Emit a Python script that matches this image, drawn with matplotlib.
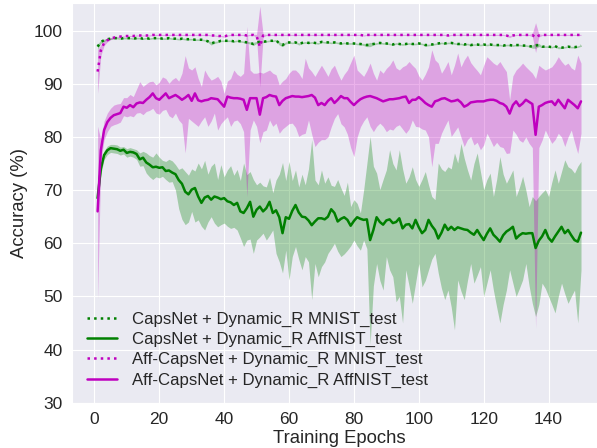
import matplotlib.pyplot as plt
import numpy as np
import seaborn as sns

sns.set_style("darkgrid")
plt.rcParams['font.family'] = ['Liberation Sans', 'DejaVu Sans']

epochs = np.arange(1, 151)

# CapsNet + Dynamic_R, MNIST test (mean and half-width of the band)
capsnet_mnist = [
    97.0, 97.9, 98.2, 98.4, 98.5, 98.6, 98.6, 98.5, 98.6, 98.6,
    98.6, 98.5, 98.6, 98.6, 98.5, 98.6, 98.5, 98.6, 98.6, 98.6,
    98.5, 98.5, 98.6, 98.5, 98.5, 98.4, 98.5, 98.4, 98.4, 98.4,
    98.3, 98.3, 98.3, 98.2, 98.0, 97.6, 97.8, 97.9, 98.1, 98.1,
    98.1, 98.1, 98.0, 98.1, 98.0, 97.9, 97.8, 97.7, 97.5, 97.8,
    97.9, 97.9, 98.0, 98.1, 98.1, 98.2, 97.6, 97.3, 97.7, 97.8,
    97.7, 97.8, 97.5, 97.7, 97.8, 97.7, 97.8, 97.7, 97.6, 97.9,
    97.8, 97.8, 97.7, 97.8, 97.7, 97.6, 97.7, 97.6, 97.6, 97.6,
    97.5, 97.5, 97.4, 97.3, 97.4, 97.5, 97.6, 97.7, 97.6, 97.6,
    97.5, 97.4, 97.6, 97.5, 97.4, 97.5, 97.6, 97.5, 97.5, 97.6,
    97.5, 97.3, 97.3, 97.4, 97.5, 97.6, 97.7, 97.6, 97.7, 97.7,
    97.6, 97.5, 97.5, 97.4, 97.5, 97.3, 97.4, 97.4, 97.3, 97.4,
    97.3, 97.4, 97.3, 97.3, 97.3, 97.2, 97.3, 97.3, 97.2, 97.3,
    97.3, 97.2, 97.2, 97.1, 97.0, 97.2, 97.3, 97.0, 97.0, 97.0,
    96.9, 97.1, 96.8, 96.8, 96.9, 97.0, 96.9, 96.9, 97.0, 97.2,
]
capsnet_mnist_spread = [
    0.5, 0.3, 0.2, 0.2, 0.15, 0.15, 0.15, 0.15, 0.15, 0.15,
    0.15, 0.15, 0.15, 0.15, 0.15, 0.15, 0.15, 0.15, 0.15, 0.15,
    0.15, 0.15, 0.15, 0.15, 0.15, 0.15, 0.15, 0.15, 0.15, 0.15,
    0.15, 0.15, 0.15, 0.15, 0.2, 0.3, 0.2, 0.15, 0.15, 0.15,
    0.15, 0.15, 0.15, 0.15, 0.15, 0.15, 0.2, 0.2, 0.3, 0.2,
    0.2, 0.15, 0.15, 0.15, 0.15, 0.15, 0.3, 0.3, 0.2, 0.15,
    0.15, 0.15, 0.2, 0.15, 0.15, 0.15, 0.15, 0.15, 0.15, 0.15,
    0.15, 0.15, 0.15, 0.15, 0.15, 0.15, 0.15, 0.15, 0.15, 0.15,
    0.15, 0.15, 0.2, 0.3, 0.4, 0.2, 0.15, 0.15, 0.15, 0.15,
    0.15, 0.15, 0.15, 0.15, 0.15, 0.15, 0.15, 0.15, 0.15, 0.15,
    0.15, 0.2, 0.15, 0.15, 0.15, 0.15, 0.15, 0.15, 0.15, 0.15,
    0.15, 0.15, 0.15, 0.15, 0.15, 0.2, 0.15, 0.15, 0.15, 0.15,
    0.15, 0.15, 0.15, 0.15, 0.15, 0.15, 0.15, 0.15, 0.15, 0.15,
    0.15, 0.15, 0.15, 0.15, 0.3, 0.5, 0.3, 0.15, 0.15, 0.15,
    0.15, 0.15, 0.2, 0.15, 0.15, 0.15, 0.15, 0.15, 0.15, 0.15,
]

# CapsNet + Dynamic_R, affNIST test (mean, lower and upper edge of the band)
capsnet_aff = [
    68.5, 74.0, 76.6, 77.5, 77.9, 77.8, 77.7, 77.4, 77.6, 77.0,
    77.2, 77.1, 76.8, 75.8, 76.1, 75.2, 74.8, 74.3, 74.4, 74.2,
    74.3, 73.6, 73.7, 73.3, 73.0, 71.9, 71.2, 69.7, 69.2, 70.1,
    70.4, 68.8, 67.6, 68.6, 68.9, 68.2, 68.8, 68.6, 68.3, 68.5,
    67.9, 67.7, 67.2, 67.6, 66.0, 65.7, 66.6, 67.8, 65.0, 66.3,
    66.9, 66.0, 66.6, 67.8, 65.7, 66.2, 64.9, 61.9, 64.9, 64.6,
    66.1, 67.2, 65.8, 65.0, 64.9, 64.3, 63.4, 64.1, 64.7, 64.7,
    64.5, 65.0, 66.4, 65.7, 64.1, 64.6, 64.9, 64.4, 63.3, 64.2,
    64.9, 64.6, 64.4, 64.5, 60.6, 62.5, 64.9, 64.0, 63.5, 64.3,
    64.5, 63.8, 64.0, 64.7, 62.8, 63.5, 63.6, 62.8, 64.4, 63.0,
    61.9, 62.5, 64.4, 63.3, 62.5, 60.9, 62.0, 63.5, 62.5, 63.1,
    62.5, 63.0, 62.8, 62.6, 62.5, 62.0, 61.6, 62.5, 61.5, 60.6,
    61.8, 62.8, 61.6, 61.0, 60.3, 61.5, 62.2, 62.6, 63.1, 60.9,
    61.5, 61.9, 61.8, 61.9, 61.9, 59.1, 60.5, 61.3, 62.5, 61.0,
    60.3, 61.3, 62.2, 63.1, 61.9, 62.5, 61.5, 60.6, 60.3, 62.0,
]
capsnet_aff_lo = [
    67.8, 73.0, 75.8, 76.7, 77.1, 77.0, 76.9, 76.6, 76.8, 76.2,
    76.4, 76.2, 75.8, 74.5, 74.6, 73.2, 72.5, 72.0, 72.5, 72.3,
    72.6, 72.0, 71.5, 71.6, 70.0, 66.5, 64.5, 63.5, 64.0, 66.0,
    64.0, 64.4, 63.2, 62.5, 64.0, 65.0, 63.8, 63.1, 63.5, 63.8,
    63.2, 62.8, 63.0, 62.5, 61.0, 59.4, 60.6, 60.8, 58.1, 60.6,
    61.2, 61.9, 60.6, 61.5, 62.5, 58.1, 56.5, 54.4, 58.7, 53.1,
    57.5, 59.4, 57.0, 55.0, 57.5, 56.5, 49.4, 56.2, 53.7, 55.6,
    56.5, 58.1, 59.0, 60.0, 58.5, 57.5, 58.0, 58.7, 59.5, 60.6,
    59.5, 58.7, 60.6, 59.0, 41.0, 52.0, 56.2, 53.0, 51.2, 57.5,
    55.0, 53.7, 49.0, 50.0, 45.0, 55.0, 52.0, 48.7, 52.5, 56.2,
    51.8, 53.0, 55.0, 57.0, 58.1, 54.4, 51.5, 49.4, 51.2, 48.0,
    43.7, 53.1, 51.0, 49.4, 53.0, 56.2, 52.5, 54.0, 55.6, 50.0,
    52.5, 55.0, 51.2, 48.0, 45.0, 48.5, 51.2, 55.0, 52.5, 50.0,
    51.5, 53.1, 56.2, 52.0, 48.7, 46.2, 48.5, 52.5, 51.5, 50.0,
    48.5, 46.9, 50.0, 52.5, 50.5, 48.7, 50.0, 51.2, 45.0, 55.0,
]
capsnet_aff_hi = [
    69.2, 75.0, 77.4, 78.3, 78.6, 78.6, 78.5, 78.1, 78.2, 77.8,
    78.0, 77.8, 77.6, 77.0, 77.3, 77.0, 76.5, 76.2, 77.0, 76.2,
    75.6, 75.4, 75.8, 75.5, 74.8, 73.9, 74.2, 73.5, 72.8, 74.0,
    73.6, 75.1, 74.0, 75.6, 73.0, 74.5, 75.1, 72.0, 74.8, 72.5,
    73.8, 74.6, 72.8, 73.9, 71.8, 75.1, 72.9, 73.5, 72.0, 71.0,
    71.5, 70.8, 70.6, 72.4, 69.5, 71.9, 73.0, 75.2, 71.8, 75.4,
    71.8, 73.8, 70.6, 73.0, 71.0, 74.0, 79.5, 71.9, 71.0, 73.8,
    71.3, 72.5, 70.9, 70.7, 72.0, 70.4, 69.0, 71.5, 66.9, 68.2,
    67.5, 65.7, 70.0, 75.0, 80.1, 74.5, 73.2, 70.1, 72.0, 73.8,
    77.6, 75.0, 73.8, 77.6, 74.0, 71.3, 72.5, 74.4, 72.0, 70.7,
    72.0, 73.5, 71.0, 68.8, 68.2, 75.1, 74.0, 73.5, 74.4, 74.0,
    77.0, 75.1, 78.8, 76.0, 73.8, 71.9, 75.0, 77.0, 73.5, 70.1,
    72.0, 73.2, 68.8, 72.0, 76.3, 73.0, 71.3, 72.5, 73.8, 68.8,
    70.5, 72.6, 70.0, 66.9, 68.8, 68.0, 68.8, 69.5, 70.1, 68.8,
    71.5, 73.8, 71.3, 73.5, 75.7, 74.4, 74.0, 73.2, 74.5, 75.4,
]

# Aff-CapsNet + Dynamic_R, MNIST test (mean and half-width of the band)
affcaps_mnist = [
    92.3, 96.3, 97.7, 98.2, 98.5, 98.7, 98.8, 98.9, 98.9, 99.0,
    99.0, 99.0, 99.1, 99.1, 99.1, 99.1, 99.1, 99.2, 99.2, 99.2,
    99.2, 99.2, 99.2, 99.2, 99.2, 99.2, 99.2, 99.2, 99.2, 99.2,
    99.2, 99.2, 99.2, 99.2, 99.2, 99.1, 99.1, 99.0, 99.0, 98.9,
    99.1, 99.2, 99.2, 99.2, 99.2, 99.2, 99.1, 99.2, 99.2, 99.0,
    97.0, 99.1, 99.2, 99.2, 99.2, 99.2, 99.2, 99.2, 99.2, 99.2,
    99.2, 99.2, 99.2, 99.2, 99.2, 99.2, 99.2, 99.2, 99.2, 99.2,
    99.2, 99.2, 99.2, 99.2, 99.2, 99.2, 99.2, 99.2, 99.2, 99.2,
    99.2, 99.2, 99.1, 99.2, 99.2, 99.2, 99.2, 99.2, 99.2, 99.2,
    99.2, 99.2, 99.2, 99.2, 99.2, 99.2, 99.2, 99.2, 99.2, 99.2,
    99.2, 99.2, 99.2, 99.2, 99.2, 99.2, 99.2, 99.2, 99.1, 99.2,
    99.2, 99.2, 99.2, 99.2, 99.2, 99.2, 99.2, 99.2, 99.2, 99.2,
    99.2, 99.2, 99.2, 99.2, 99.2, 99.2, 99.1, 98.9, 99.1, 99.2,
    99.2, 99.2, 99.2, 99.2, 99.2, 98.7, 99.1, 99.2, 99.2, 99.2,
    99.2, 99.2, 99.2, 99.2, 99.2, 99.2, 99.2, 99.2, 99.2, 99.2,
]
affcaps_mnist_spread = [
    4.1, 1.0, 0.5, 0.3, 0.2, 0.15, 0.1, 0.1, 0.1, 0.1,
    0.1, 0.1, 0.1, 0.1, 0.1, 0.1, 0.1, 0.1, 0.1, 0.1,
    0.1, 0.1, 0.1, 0.1, 0.1, 0.1, 0.1, 0.1, 0.1, 0.1,
    0.1, 0.1, 0.1, 0.1, 0.1, 0.1, 0.1, 0.1, 0.1, 0.15,
    0.1, 0.1, 0.1, 0.1, 0.1, 0.1, 0.1, 0.1, 0.1, 0.3,
    7.6, 0.3, 0.1, 0.1, 0.1, 0.1, 0.1, 0.1, 0.1, 0.1,
    0.1, 0.1, 0.1, 0.1, 0.1, 0.1, 0.1, 0.1, 0.1, 0.1,
    0.1, 0.1, 0.1, 0.1, 0.1, 0.1, 0.1, 0.1, 0.1, 0.1,
    0.1, 0.1, 0.1, 0.1, 0.1, 0.1, 0.1, 0.1, 0.1, 0.1,
    0.1, 0.1, 0.1, 0.1, 0.1, 0.1, 0.1, 0.1, 0.1, 0.1,
    0.1, 0.1, 0.1, 0.1, 0.1, 0.1, 0.1, 0.1, 0.1, 0.1,
    0.1, 0.1, 0.1, 0.1, 0.1, 0.1, 0.1, 0.1, 0.1, 0.1,
    0.1, 0.1, 0.1, 0.1, 0.1, 0.1, 0.1, 0.2, 0.1, 0.1,
    0.1, 0.1, 0.1, 0.1, 0.3, 2.8, 0.3, 0.1, 0.1, 0.1,
    0.1, 0.1, 0.1, 0.1, 0.1, 0.1, 0.1, 0.1, 0.1, 0.1,
]

# Aff-CapsNet + Dynamic_R, affNIST test (mean, lower and upper edge of the band)
affcaps_aff = [
    66.0, 77.5, 81.3, 82.8, 83.6, 84.1, 84.3, 84.5, 85.7, 85.5,
    86.0, 85.6, 86.3, 86.5, 86.4, 87.0, 87.5, 88.2, 87.3, 87.0,
    87.6, 88.2, 87.3, 87.6, 87.9, 87.5, 87.0, 87.4, 87.9, 86.8,
    88.2, 86.9, 86.7, 86.9, 87.0, 87.3, 87.2, 87.1, 86.4, 85.7,
    87.6, 87.4, 87.3, 87.3, 87.2, 87.0, 85.1, 87.3, 87.3, 87.3,
    84.2, 87.3, 87.5, 87.9, 87.7, 87.6, 86.0, 86.8, 87.3, 87.5,
    87.7, 87.6, 87.6, 87.5, 87.6, 87.7, 87.9, 87.4, 86.0, 86.4,
    86.0, 86.8, 87.3, 86.4, 87.0, 87.7, 87.3, 87.3, 86.6, 86.0,
    86.6, 87.1, 87.4, 87.6, 87.7, 87.5, 87.3, 87.0, 86.7, 86.9,
    87.1, 87.1, 87.2, 87.3, 87.5, 87.6, 86.4, 87.0, 87.0, 87.5,
    87.0, 86.4, 86.0, 85.7, 86.7, 86.9, 87.2, 87.3, 87.0, 86.7,
    86.8, 87.0, 86.5, 85.7, 86.0, 86.5, 86.6, 86.7, 86.7, 86.7,
    86.9, 87.0, 87.0, 86.8, 86.4, 86.2, 85.7, 84.4, 86.0, 86.7,
    85.8, 86.3, 87.0, 86.6, 86.2, 80.4, 85.7, 86.0, 86.4, 86.6,
    86.7, 86.0, 87.0, 86.2, 85.4, 87.0, 86.5, 86.0, 85.4, 86.7,
]
affcaps_aff_lo = [
    49.5, 75.5, 79.5, 81.0, 82.0, 82.3, 82.5, 82.8, 84.0, 83.8,
    84.0, 83.8, 84.5, 84.6, 84.2, 84.8, 85.0, 85.4, 84.5, 84.3,
    85.0, 85.2, 84.0, 83.6, 84.5, 83.2, 82.5, 77.0, 83.5, 83.0,
    82.5, 82.0, 83.0, 83.8, 82.0, 83.0, 84.5, 81.3, 82.5, 83.2,
    83.8, 82.0, 83.0, 83.2, 82.5, 81.0, 68.8, 81.3, 83.2, 82.0,
    78.9, 81.0, 81.3, 83.2, 82.0, 82.6, 80.7, 81.5, 82.0, 82.5,
    82.6, 81.8, 80.1, 80.5, 80.7, 83.2, 80.5, 78.2, 79.0, 79.5,
    79.5, 80.0, 81.9, 83.5, 84.4, 82.5, 81.9, 80.5, 78.0, 76.3,
    80.0, 81.9, 83.0, 83.8, 82.0, 81.0, 82.0, 82.6, 82.0, 81.0,
    81.5, 81.3, 82.0, 82.3, 81.5, 80.7, 81.5, 83.2, 82.0, 81.9,
    81.5, 81.3, 80.0, 74.4, 78.8, 78.8, 80.7, 82.0, 83.2, 80.1,
    81.0, 81.9, 80.0, 78.2, 79.5, 80.1, 78.5, 79.0, 77.6, 78.5,
    80.7, 79.5, 78.2, 79.0, 78.2, 78.0, 76.9, 77.0, 81.3, 80.5,
    79.4, 79.0, 80.0, 78.8, 78.0, 44.0, 78.0, 79.4, 81.3, 80.0,
    78.8, 79.5, 80.7, 80.0, 78.2, 80.0, 81.3, 79.0, 76.9, 80.7,
]
affcaps_aff_hi = [
    82.0, 79.5, 83.0, 84.5, 85.4, 86.0, 86.2, 86.3, 87.4, 87.4,
    88.0, 87.6, 89.0, 90.4, 89.5, 90.0, 90.4, 90.5, 89.8, 90.3,
    91.3, 91.0, 90.1, 90.8, 91.2, 90.5, 92.0, 95.3, 93.0, 92.6,
    93.2, 91.0, 89.5, 92.6, 91.5, 90.7, 91.0, 91.4, 90.5, 88.2,
    90.5, 91.0, 92.6, 91.8, 91.4, 92.0, 100.8, 92.6, 92.0, 92.0,
    92.2, 92.0, 92.3, 92.6, 92.0, 91.7, 89.8, 90.5, 91.0, 92.0,
    92.6, 92.6, 92.0, 91.0, 94.8, 93.0, 92.3, 91.4, 92.5, 93.5,
    92.5, 91.4, 92.8, 93.5, 92.0, 90.7, 91.8, 92.6, 94.0, 95.4,
    92.6, 92.0, 91.4, 92.5, 93.9, 92.0, 90.7, 92.6, 92.0, 92.9,
    93.5, 94.5, 93.0, 92.6, 93.2, 93.5, 94.2, 93.5, 92.9, 91.5,
    90.7, 91.8, 93.2, 96.4, 94.5, 93.9, 92.0, 93.0, 94.2, 91.7,
    93.5, 95.8, 93.2, 94.5, 95.4, 94.0, 93.2, 92.5, 91.7, 93.5,
    95.1, 94.5, 93.9, 93.5, 94.2, 93.2, 92.3, 87.0, 91.5, 92.6,
    93.2, 93.9, 93.2, 92.6, 92.0, 91.0, 93.5, 93.0, 92.6, 92.9,
    93.2, 94.0, 95.1, 94.2, 93.5, 93.9, 93.0, 92.6, 95.4, 93.9,
]

labels = [
    "CapsNet + Dynamic_R MNIST_test",
    "CapsNet + Dynamic_R AffNIST_test",
    "Aff-CapsNet + Dynamic_R MNIST_test",
    "Aff-CapsNet + Dynamic_R AffNIST_test",
]

fig = plt.figure(figsize=(5.97, 4.48), dpi=100)
ax = fig.add_axes([0.1211, 0.1011, 0.8945, 0.8915])

cm = np.array(capsnet_mnist)
cs = np.array(capsnet_mnist_spread)
am = np.array(affcaps_mnist)
asp = np.array(affcaps_mnist_spread)

# CapsNet (green)
ax.fill_between(epochs, cm - cs, cm + cs, color="green", alpha=0.3, lw=0)
ax.plot(epochs, cm, color="green", ls=":", lw=1.8, label=labels[0])
ax.fill_between(epochs, capsnet_aff_lo, capsnet_aff_hi, color="green", alpha=0.3, lw=0)
ax.plot(epochs, capsnet_aff, color="green", lw=1.8, label=labels[1])

# Aff-CapsNet (magenta)
ax.fill_between(epochs, am - asp, am + asp, color="m", alpha=0.3, lw=0)
ax.plot(epochs, am, color="m", ls=":", lw=1.8, label=labels[2])
ax.fill_between(epochs, affcaps_aff_lo, affcaps_aff_hi, color="m", alpha=0.3, lw=0)
ax.plot(epochs, affcaps_aff, color="m", lw=1.8, label=labels[3])

ax.set_xlim(-6.8, 157.8)
ax.set_ylim(30, 105.15)
ax.set_xticks(np.arange(0, 141, 20))
ax.set_yticks(np.arange(30, 101, 10))
ax.tick_params(labelsize=12.5)
ax.set_xlabel("Training Epochs", fontsize=13.3, labelpad=2)
ax.set_ylabel("Accuracy (%)", fontsize=13.3)

ax.legend(loc="lower left", frameon=False, fontsize=12.1,
          handlelength=1.78, handletextpad=0.85, labelspacing=0.3)

plt.savefig("out.png", dpi=100)
